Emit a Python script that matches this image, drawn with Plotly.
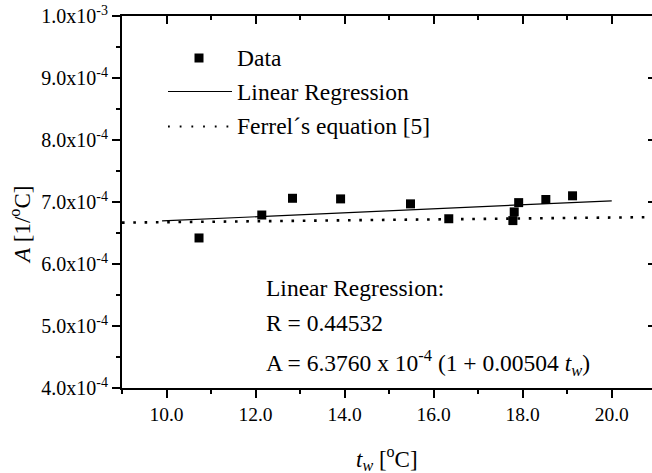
import plotly.graph_objects as go

# ---------------- data ----------------
tw = [10.73, 12.14, 12.83, 13.91, 15.48, 16.34, 17.78, 17.81, 17.91, 18.52, 19.12]
A_data = [6.42e-4, 6.79e-4, 7.06e-4, 7.05e-4, 6.97e-4, 6.73e-4, 6.70e-4, 6.84e-4, 6.99e-4, 7.04e-4, 7.10e-4]

reg_t = [9.9, 20.0]
reg_A = [6.694e-4, 7.019e-4]

ferrel_t = [9.0, 21.0]
ferrel_A = [6.667e-4, 6.757e-4]

x_tickvals = [10, 12, 14, 16, 18, 20]
x_ticktext = ["10.0", "12.0", "14.0", "16.0", "18.0", "20.0"]
x_minor = [9, 11, 13, 15, 17, 19]

y_tickvals = [4e-4, 5e-4, 6e-4, 7e-4, 8e-4, 9e-4, 1e-3]
y_ticktext = ["4.0x10<sup>-4</sup>", "5.0x10<sup>-4</sup>", "6.0x10<sup>-4</sup>",
              "7.0x10<sup>-4</sup>", "8.0x10<sup>-4</sup>", "9.0x10<sup>-4</sup>",
              "1.0x10<sup>-3</sup>"]
y_minor = [4.5e-4, 5.5e-4, 6.5e-4, 7.5e-4, 8.5e-4, 9.5e-4]

legend_labels = ["Data", "Linear Regression", "Ferrel\u00b4s equation [5]"]
note_lines = ["Linear Regression:", "R = 0.44532",
              "A = 6.3760 x 10<sup>-4</sup> (1 + 0.00504 <i>t</i><sub><i>w</i></sub>)"]

# ---------------- layout geometry ----------------
W, H = 652, 473
ML, MR, MT, MB = 122, 0, 16, 85
PW, PH = W - ML - MR, H - MT - MB
FONT = "'Liberation Serif', 'Times New Roman', Times, serif"


def px(x):
    return (x - ML) / PW


def py(y):
    return (H - MB - y) / PH


fig = go.Figure()

fig.add_trace(go.Scatter(x=ferrel_t, y=ferrel_A, mode="lines",
                         line=dict(color="black", width=2.6, dash="2.6px,8.7px"),
                         showlegend=False, hoverinfo="skip"))
fig.add_trace(go.Scatter(x=reg_t, y=reg_A, mode="lines",
                         line=dict(color="black", width=1.2),
                         showlegend=False, hoverinfo="skip"))
fig.add_trace(go.Scatter(x=tw, y=A_data, mode="markers",
                         marker=dict(symbol="square", size=9, color="black",
                                     line=dict(width=0)),
                         showlegend=False))
# invisible trace for the mirrored (top/right) tick axes
fig.add_trace(go.Scatter(x=[None], y=[None], xaxis="x2", yaxis="y2",
                         showlegend=False, hoverinfo="skip"))

xr = [9, 9 + PW / 44.52]
yr = [4e-4, 1e-3]

fig.update_layout(
    width=W, height=H,
    margin=dict(l=ML, r=MR, t=MT, b=MB, pad=0),
    paper_bgcolor="white", plot_bgcolor="white",
    font=dict(family=FONT, color="black", size=20),
    showlegend=False,
    xaxis=dict(range=xr, showgrid=False, zeroline=False,
               showline=True, linecolor="black", linewidth=2, mirror=True,
               tickmode="array", tickvals=x_tickvals, ticktext=x_ticktext,
               ticks="outside", ticklen=8, tickwidth=1.5, tickcolor="black",
               tickfont=dict(family=FONT, size=19.5, color="black"),
               minor=dict(tickmode="array", tickvals=x_minor, ticks="outside",
                          ticklen=4, tickwidth=1.5, tickcolor="black")),
    yaxis=dict(range=yr, showgrid=False, zeroline=False,
               showline=True, linecolor="black", linewidth=2, mirror=False,
               tickmode="array", tickvals=y_tickvals, ticktext=y_ticktext,
               ticks="outside", ticklen=8, tickwidth=1.5, tickcolor="black",
               tickfont=dict(family=FONT, size=20, color="black"),
               minor=dict(tickmode="array", tickvals=y_minor, ticks="outside",
                          ticklen=4, tickwidth=1.5, tickcolor="black")),
    xaxis2=dict(range=xr, overlaying="x", side="top", anchor="y2",
                showgrid=False, zeroline=False, showline=False,
                showticklabels=False,
                tickmode="array", tickvals=x_tickvals,
                ticks="inside", ticklen=8, tickwidth=1.5, tickcolor="black",
                minor=dict(tickmode="array", tickvals=x_minor, ticks="inside",
                           ticklen=4, tickwidth=1.5, tickcolor="black")),
    yaxis2=dict(range=yr, overlaying="y", side="right", anchor="x2",
                showgrid=False, zeroline=False, showline=False,
                showticklabels=False,
                tickmode="array", tickvals=y_tickvals,
                ticks="inside", ticklen=4, tickwidth=1.5, tickcolor="black"),
)

annotations = []
shapes = []

# axis titles
annotations.append(dict(xref="paper", yref="paper", x=px(387), y=py(458),
                        text="<i>t</i><sub><i>w</i></sub> [<sup>o</sup>C]",
                        showarrow=False, xanchor="center", yanchor="middle",
                        font=dict(family=FONT, size=23, color="black")))
annotations.append(dict(xref="paper", yref="paper", x=px(21), y=py(225),
                        text="<i>A</i> [1/<sup>o</sup>C]", textangle=-90,
                        showarrow=False, xanchor="center", yanchor="middle",
                        font=dict(family=FONT, size=23, color="black")))

# legend (drawn by hand to match the long line samples)
leg_y = [58, 91.5, 126.5]
for lab, yy in zip(legend_labels, leg_y):
    annotations.append(dict(xref="paper", yref="paper", x=px(235), y=py(yy),
                            text=lab, showarrow=False, xanchor="left",
                            yanchor="middle",
                            font=dict(family=FONT, size=23.5, color="black")))
shapes.append(dict(type="rect", xref="paper", yref="paper",
                   x0=px(194.5), x1=px(203.5), y0=py(53.5), y1=py(62.5),
                   fillcolor="black", line=dict(width=0)))
shapes.append(dict(type="line", xref="paper", yref="paper",
                   x0=px(168), x1=px(232), y0=py(leg_y[1]), y1=py(leg_y[1]),
                   line=dict(color="black", width=1.2)))
shapes.append(dict(type="line", xref="paper", yref="paper",
                   x0=px(168), x1=px(232), y0=py(leg_y[2]), y1=py(leg_y[2]),
                   line=dict(color="black", width=1.8, dash="1.8px,9.9px")))

# regression note
note_y = [288, 323, 363]
for txt, yy in zip(note_lines, note_y):
    annotations.append(dict(xref="paper", yref="paper", x=px(264), y=py(yy),
                            text=txt, showarrow=False, xanchor="left",
                            yanchor="middle",
                            font=dict(family=FONT, size=23.5, color="black")))

fig.update_layout(annotations=annotations, shapes=shapes)

fig.write_html("out.html")
